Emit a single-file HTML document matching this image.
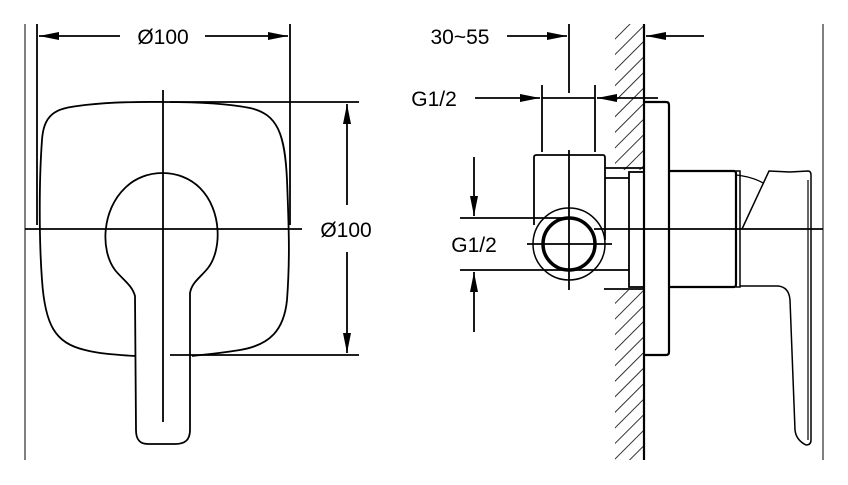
<!DOCTYPE html>
<html><head><style>html,body{margin:0;padding:0;background:#fff}svg{display:block}</style></head>
<body>
<svg width="848" height="485" viewBox="0 0 848 485" xmlns="http://www.w3.org/2000/svg">
<defs>
<marker id="b" markerWidth="20" markerHeight="8" refX="20" refY="4" orient="auto" markerUnits="userSpaceOnUse" viewBox="0 0 20 8"><path d="M0,0 L20,4 L0,8 z" fill="#000"/></marker>
<pattern id="h" width="11" height="11" patternUnits="userSpaceOnUse" patternTransform="rotate(45)"><line x1="0" y1="0" x2="0" y2="11" stroke="#000" stroke-width="1.6"/></pattern>
</defs>
<g fill="none" stroke="#000" stroke-width="1.8" font-family="Liberation Sans, sans-serif">
<line x1="25" y1="24" x2="25" y2="460" stroke-width="1"/>
<line x1="37" y1="24" x2="37" y2="225"/>
<line x1="290" y1="24" x2="290" y2="225"/>
<line x1="120" y1="36" x2="39" y2="36" marker-end="url(#b)"/>
<line x1="205" y1="36" x2="288" y2="36" marker-end="url(#b)"/>
<path d="M42,140 C44,110 60,108 85,105 C120,101 150,102 165,102 C200,102 230,104 250,108 C278,114 285,135 287,180 C289,230 290,260 287,300 C284,330 270,345 240,350 C215,354 200,355 192,356 M135,356 C120,355 100,354 85,350 C55,343 45,325 42,280 C39,240 39,180 42,140" />
<path d="M135,296 C132,285 123,280 115,270 C100,250 102,210 125,188 C145,168 180,168 200,188 C222,210 222,250 208,268 C200,278 192,282 190,293 L190,430 C190,440 185,444 175,444 L148,444 C140,444 136,440 136,430 Z"/>
<line x1="163" y1="90" x2="163" y2="422"/>
<line x1="25" y1="229" x2="302" y2="229"/>
<line x1="170" y1="102" x2="359" y2="102"/>
<line x1="170" y1="355" x2="359" y2="355"/>
<line x1="347" y1="205" x2="347" y2="104" marker-end="url(#b)"/>
<line x1="347" y1="252" x2="347" y2="353" marker-end="url(#b)"/>
<text x="163" y="44" font-size="21" text-anchor="middle" fill="#000" stroke="none">Ø100</text>
<text x="346" y="237" font-size="21" text-anchor="middle" fill="#000" stroke="none">Ø100</text>

<rect x="615" y="24" width="29" height="146" fill="url(#h)" stroke="none"/>
<rect x="615" y="290" width="29" height="170" fill="url(#h)" stroke="none"/>
<line x1="644" y1="24" x2="644" y2="460" stroke-width="2.2"/>
<line x1="823" y1="24" x2="823" y2="460" stroke-width="1"/>
<line x1="569" y1="24" x2="569" y2="93"/>
<line x1="507" y1="36" x2="567" y2="36" marker-end="url(#b)"/>
<line x1="704" y1="36" x2="646" y2="36" marker-end="url(#b)"/>
<text x="460" y="44" font-size="21" text-anchor="middle" fill="#000" stroke="none">30~55</text>
<line x1="542" y1="85" x2="542" y2="152"/>
<line x1="595" y1="85" x2="595" y2="152"/>
<line x1="475" y1="98" x2="540" y2="98" marker-end="url(#b)"/>
<line x1="658" y1="98" x2="597" y2="98" marker-end="url(#b)"/>
<line x1="542" y1="98" x2="595" y2="98"/>
<text x="434" y="106" font-size="21" text-anchor="middle" fill="#000" stroke="none">G1/2</text>
<path d="M534,225 L534,157 Q534,155 537,155 L603,155 Q605,155 605,158 L605,240"/>
<circle cx="569" cy="244" r="36" stroke-width="1.5"/>
<circle cx="569" cy="244" r="26" stroke-width="3.5"/>
<line x1="569" y1="150" x2="569" y2="290"/>
<line x1="527" y1="244" x2="612" y2="244"/>
<line x1="460" y1="218" x2="569" y2="218"/>
<line x1="460" y1="270" x2="629" y2="270"/>
<line x1="474" y1="157" x2="474" y2="216" marker-end="url(#b)"/>
<line x1="474" y1="332" x2="474" y2="272" marker-end="url(#b)"/>
<text x="474" y="252" font-size="21" text-anchor="middle" fill="#000" stroke="none">G1/2</text>
<line x1="605" y1="168" x2="644" y2="168"/>
<line x1="605" y1="178" x2="629" y2="178"/>
<line x1="604" y1="289" x2="644" y2="289"/>
<rect x="629" y="172" width="15" height="115"/>
<path d="M644,102 L666,102 Q669,102 669,105 L669,352 Q669,355 666,355 L644,355" stroke-width="2.2"/>
<path d="M669,171 L734,171 Q736,171 736,174 L736,284 Q736,287 734,287 L669,287" stroke-width="2.2"/>
<path d="M736,171 L740,171 L740,287 L736,287" stroke-width="1.5"/>
<path d="M736,175 Q753,177 763,183" stroke-width="1.2"/>
<path d="M742,229 L769,171 L790,172 L808,171 Q811,171 811,175 L811,440 Q811,445 806,445 Q796,440 795,430 L790,300 Q789,287 778,286 L740,286" stroke-width="1.5"/>
<line x1="808" y1="180" x2="808" y2="440" stroke-width="1.2"/>
<line x1="594" y1="229" x2="823" y2="229"/>
</g>
</svg>
</body></html>
